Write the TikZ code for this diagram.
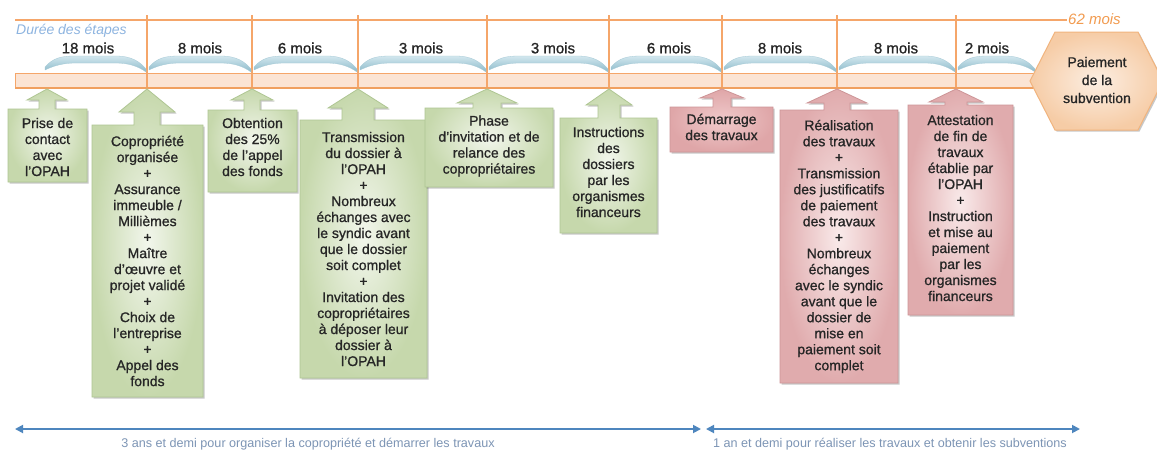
\documentclass[tikz,border=0pt]{standalone}
\usepackage{fontspec}
\setmainfont{Liberation Sans}
\newfontfamily\heavysans{Liberation Sans}[FakeBold=0.9]
\usetikzlibrary{shadows,arrows.meta}

\definecolor{orangeline}{HTML}{F5A66A}
\definecolor{barfill}{HTML}{FBE4D4}
\definecolor{baredge}{HTML}{F0A060}
\definecolor{ribbontop}{HTML}{D2E7EE}
\definecolor{ribbonbot}{HTML}{8CBACA}
\definecolor{greenout}{HTML}{C6D8AC}
\definecolor{greenin}{HTML}{F2F6EC}
\definecolor{greenedge}{HTML}{AFC693}
\definecolor{pinkout}{HTML}{E0ABAD}
\definecolor{pinkin}{HTML}{F9EAEA}
\definecolor{pinkedge}{HTML}{CD9597}
\definecolor{pinkdarkout}{HTML}{DFA6A8}
\definecolor{pinkdarkin}{HTML}{F0CACB}
\definecolor{hexout}{HTML}{F6CCA6}
\definecolor{hexin}{HTML}{FCEEE2}
\definecolor{hexedge}{HTML}{F1B47E}
\definecolor{stepblue}{HTML}{8DB4E0}
\definecolor{spanblue}{HTML}{4E86BE}
\definecolor{spantext}{HTML}{7D95B5}
\definecolor{txt}{HTML}{262626}
\definecolor{monthorange}{HTML}{F29B4F}

\tikzset{
  boxshadow/.style={drop shadow={shadow xshift=1.5pt, shadow yshift=-1.5pt, opacity=0.3, fill=black!70}},
  greenbox/.style={draw=greenedge, line width=0.8pt, inner color=greenin, outer color=greenout, boxshadow},
  pinkbox/.style={draw=pinkedge, line width=0.8pt, inner color=pinkin, outer color=pinkout, boxshadow},
  pinkdark/.style={draw=pinkedge, line width=0.8pt, inner color=pinkdarkin, outer color=pinkdarkout, boxshadow},
  lbl/.style={align=center, font=\heavysans\fontsize{14}{16}\selectfont, text=txt, inner sep=0pt},
  monthlbl/.style={font=\heavysans\fontsize{15}{17}\selectfont, text=txt, inner sep=0pt},
  ribbon/.style={top color=ribbontop, bottom color=ribbonbot, draw=ribbonbot!80, line width=0.3pt},
  hexshape/.style={draw=hexedge, line width=1pt, inner color=hexin, outer color=hexout, boxshadow},
  span/.style={draw=spanblue, line width=1.8pt, {Triangle[length=8pt,width=8pt]}-{Triangle[length=8pt,width=8pt]}},
  spantxt/.style={font=\fontsize{12.6}{15}\selectfont, text=spantext, inner sep=0pt},
}

\def\tipy{89}
% up-pointing callout: tip x, head half width, head base y, shaft half width,
% box left, box top, box right, box bottom, style
\newcommand\upbox[9]{%
  \path[#9] (#5,#6) -- (#1-#4,#6) -- (#1-#4,#3) -- (#1-#2,#3) -- (#1,\tipy)
    -- (#1+#2,#3) -- (#1+#4,#3) -- (#1+#4,#6) -- (#7,#6) -- (#7,#8) -- (#5,#8) -- cycle;}
% curved duration ribbon between two x positions
\newcommand\durribbon[2]{%
  \path[ribbon] (#1,67) .. controls (#1+8,58) and (#1+16,56) .. (#1+30,56)
    -- (#2-30,56) .. controls (#2-14,56) and (#2-6,62) .. (#2,69)
    -- (#2,72) .. controls (#2-8,66) and (#2-18,63) .. (#2-30,63)
    -- (#1+30,63) .. controls (#1+18,63) and (#1+8,66) .. (#1,70) -- cycle;}

\begin{document}
\begin{tikzpicture}[x=1pt,y=-1pt]
\useasboundingbox (0,0) rectangle (1157,459);
\clip (0,0) rectangle (1157,459);
\fill[white] (0,0) rectangle (1157,459);

% time axis
\draw[orangeline, line width=1.4pt] (15,20) -- (1067,20);
\node[anchor=west, font=\fontsize{15}{17}\selectfont\itshape, text=monthorange, inner sep=0pt] (total) at (1068,19) {62 mois};
\node[anchor=west, font=\fontsize{14}{16}\selectfont\itshape, text=stepblue, inner sep=0pt] (steps) at (16,31) {Durée des étapes};

% phase bar
\fill[barfill] (15,73) rectangle (1050,88);
\draw[orangeline, line width=0.6pt] (15,88) -- (15,73) -- (1050,73);
\draw[baredge, line width=2pt] (15,88) -- (1050,88);

% step separators
\foreach \xx in {147,252,358,487,609,722,837,956}
  \draw[orangeline, line width=1.2pt] (\xx,15) -- (\xx,87);

% duration ribbons
\durribbon{45}{146}
\durribbon{149}{251}
\durribbon{254}{357}
\durribbon{360}{486}
\durribbon{489}{608}
\durribbon{611}{721}
\durribbon{724}{836}
\durribbon{839}{955}
\durribbon{958}{1035}

\node[monthlbl] (m1) at (88,48) {18 mois};
\node[monthlbl] (m2) at (200,48) {8 mois};
\node[monthlbl] (m3) at (300,48) {6 mois};
\node[monthlbl] (m4) at (421,48) {3 mois};
\node[monthlbl] (m5) at (553,48) {3 mois};
\node[monthlbl] (m6) at (669,48) {6 mois};
\node[monthlbl] (m7) at (780,48) {8 mois};
\node[monthlbl] (m8) at (896,48) {8 mois};
\node[monthlbl] (m9) at (987,48) {2 mois};

% final payment
\path[hexshape] (1030,81) -- (1055,32) -- (1138,32) -- (1163,81) -- (1138,130) -- (1055,130) -- cycle;
\node[lbl, font=\heavysans\fontsize{14}{18}\selectfont] (pay) at (1097,80) {Paiement\\de la\\subvention};

% callouts
\upbox{47}{20}{100}{8}{8}{109}{87}{182}{greenbox}
\node[lbl] (contact) at (47.5,147) {Prise de\\contact\\avec\\l’OPAH};

\upbox{147}{28}{112}{13}{92}{125}{203}{397}{greenbox}
\node[lbl] (orga) at (147.5,261) {Copropriété\\organisée\\+\\Assurance\\immeuble /\\Millièmes\\+\\Maître\\d’œuvre et\\projet validé\\+\\Choix de\\l’entreprise\\+\\Appel des\\fonds};

\upbox{252}{21}{100}{8}{208}{110}{297}{192}{greenbox}
\node[lbl] (fonds) at (252.5,147) {Obtention\\des 25\%\\de l’appel\\des fonds};

\upbox{358}{30}{108}{16}{300}{120}{427}{378}{greenbox}
\node[lbl] (transm) at (363.5,249) {Transmission\\du dossier à\\l’OPAH\\+\\Nombreux\\échanges avec\\le syndic avant\\que le dossier\\soit complet\\+\\Invitation des\\copropriétaires\\à déposer leur\\dossier à\\l’OPAH};

\upbox{487}{30}{103}{14}{425}{108}{553}{187}{greenbox}
\node[lbl] (relance) at (489,146) {Phase\\d’invitation et de\\relance des\\copropriétaires};

\upbox{609}{23}{105}{11}{560}{118}{657}{233}{greenbox}
\node[lbl] (instr) at (608.5,172) {Instructions\\des\\dossiers\\par les\\organismes\\financeurs};

\upbox{722}{22}{98}{9}{670}{107}{773}{152}{pinkdark}
\node[lbl] (debut) at (721.5,127) {Démarrage\\des travaux};

\upbox{837}{30}{103}{13}{780}{110}{898}{383}{pinkbox}
\node[lbl] (realis) at (839,246.5) {Réalisation\\des travaux\\+\\Transmission\\des justificatifs\\de paiement\\des travaux\\+\\Nombreux\\échanges\\avec le syndic\\avant que le\\dossier de\\mise en\\paiement soit\\complet};

\upbox{956}{27}{102}{11}{908}{105}{1013}{315}{pinkbox}
\node[lbl] (attest) at (960.5,208) {Attestation\\de fin de\\travaux\\établie par\\l’OPAH\\+\\Instruction\\et mise au\\paiement\\par les\\organismes\\financeurs};

% overall spans
\coordinate (sL) at (15,429);
\coordinate (sA) at (701,429);
\coordinate (sB) at (706,429);
\coordinate (sR) at (1080,429);
\draw[span] (sL) -- (sA);
\draw[span] (sB) -- (sR);
\node[spantxt] (span1) at (308,444) {3 ans et demi pour organiser la copropriété et démarrer les travaux};
\node[spantxt] (span2) at (890,444) {1 an et demi pour réaliser les travaux et obtenir les subventions};
\end{tikzpicture}
\end{document}
